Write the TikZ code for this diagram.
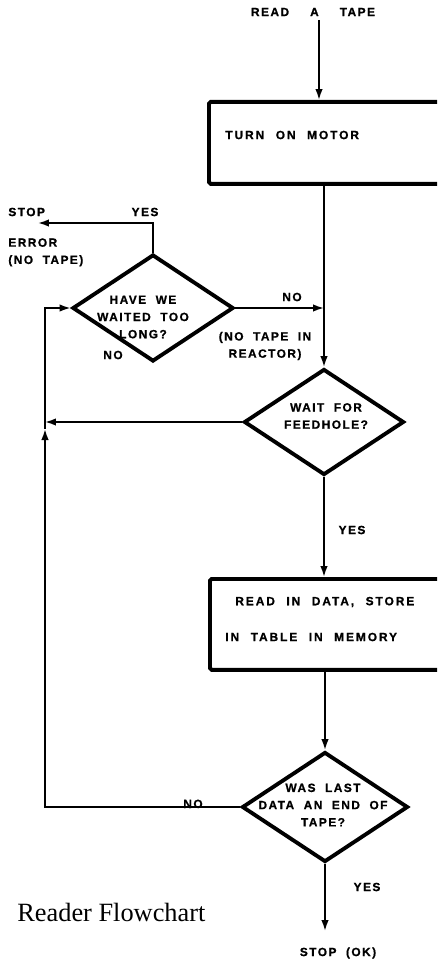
\documentclass[tikz,border=0pt]{standalone}
\usepackage{fontspec}
\setmainfont{Liberation Serif}
\newfontfamily\capfont{Liberation Sans Bold}[LetterSpace=12, WordSpace=2, FakeBold=0.8]
\newfontfamily\boxfont{Liberation Sans Bold}[LetterSpace=16, WordSpace=2.2, FakeBold=0.8]
\usetikzlibrary{shapes.geometric,arrows.meta,positioning}

\begin{document}
\begin{tikzpicture}[
    x=0.02cm, y=-0.02cm,
    lbl/.style={
        font=\capfont\fontsize{6.8}{9.8}\selectfont,
        inner sep=0pt
    },
    boxtxt/.style={
        font=\boxfont\fontsize{6.8}{8}\selectfont,
        inner sep=0pt,
        anchor=west
    },
    procbox/.style={
        rectangle,
        draw=black,
        line width=2.2pt,
        rounded corners=1pt,
        anchor=north west,
        minimum width=4.9cm,
        inner sep=0pt
    },
    decision/.style={
        diamond,
        draw=black,
        line width=2.2pt,
        inner sep=0pt
    },
    flow/.style={line width=1pt, -{Latex[length=2.2mm,width=1.5mm]}}
]

\clip (0,0) rectangle (437,963);

% Process boxes
\node[procbox, minimum height=1.64cm] (motor) at (207,100) {};
\node[procbox, minimum height=1.82cm] (store) at (208,577) {};

\node[boxtxt] (motortxt) at (225,135) {TURN ON MOTOR};
\node[boxtxt] (storetxt) at (235,602) {READ IN DATA, STORE};
\node[boxtxt] (tabletxt) at (225,637) {IN TABLE IN MEMORY};

% Decisions
\node[decision, minimum width=3.22cm, minimum height=2.14cm] (wait) at (153,308) {};
\node[decision, minimum width=3.2cm, minimum height=2.12cm] (feed) at (324,422) {};
\node[decision, minimum width=3.32cm, minimum height=2.2cm] (endtape) at (325,807) {};

\node[lbl, align=center] (waittxt) at (143,317) {HAVE WE\\WAITED TOO\\LONG?};
\node[lbl, align=center] (feedtxt) at (326,416) {WAIT FOR\\FEEDHOLE?};
\node[lbl, align=center] (endtxt) at (323,805) {WAS LAST\\DATA\ AN END OF\\TAPE?};

% Labels
\node[lbl] (readtape) at (313,12) {READ\hspace{0.42cm}A\hspace{0.42cm}TAPE};
\node[lbl, anchor=west] (stop) at (8,212) {STOP};
\node[lbl, anchor=north west, align=left] (error) at (8,238) {ERROR\\(NO TAPE)};
\node[lbl] (yes1) at (145,212) {YES};
\node[lbl] (no1) at (292,297) {NO};
\node[lbl] (no2) at (113,355) {NO};
\node[lbl, align=center] (reactor) at (265,346) {(NO TAPE IN\\REACTOR)};
\node[lbl] (yes2) at (352,530) {YES};
\node[lbl, anchor=base] (no3) at (193,808) {NO};
\node[lbl] (yes3) at (367,887) {YES};
\node[lbl] (okstop) at (338,953) {STOP (OK)};
\node[font=\fontsize{15}{18}\selectfont, anchor=west, inner sep=0pt] (title) at (17,912) {Reader Flowchart};

% Free ends
\coordinate (intop) at (319,20);
\coordinate (errstop) at (38,223);
\coordinate (loopbot) at (45,807);
\coordinate (looptip) at (45,429);
\coordinate (okend) at (325,931);

% Connectors
\draw[flow] (intop) -- (intop |- motor.north);
\draw[flow] (motor.south -| feed.north) -- (feed.north);
\draw[flow] (wait.east) -- (wait.east -| feed.north);
\draw[flow] (wait.north) |- (errstop);
\draw[flow] (feed.west) -- (feed.west -| loopbot);
\draw[flow] (endtape.west) -- (loopbot) -- (looptip);
\draw[flow] (looptip) -- (looptip |- wait.west) -- (wait.west);
\draw[flow] (feed.south) -- (feed.south |- store.north);
\draw[flow] (store.south -| endtape.north) -- (endtape.north);
\draw[flow] (endtape.south) -- (okend);

\end{tikzpicture}
\end{document}
